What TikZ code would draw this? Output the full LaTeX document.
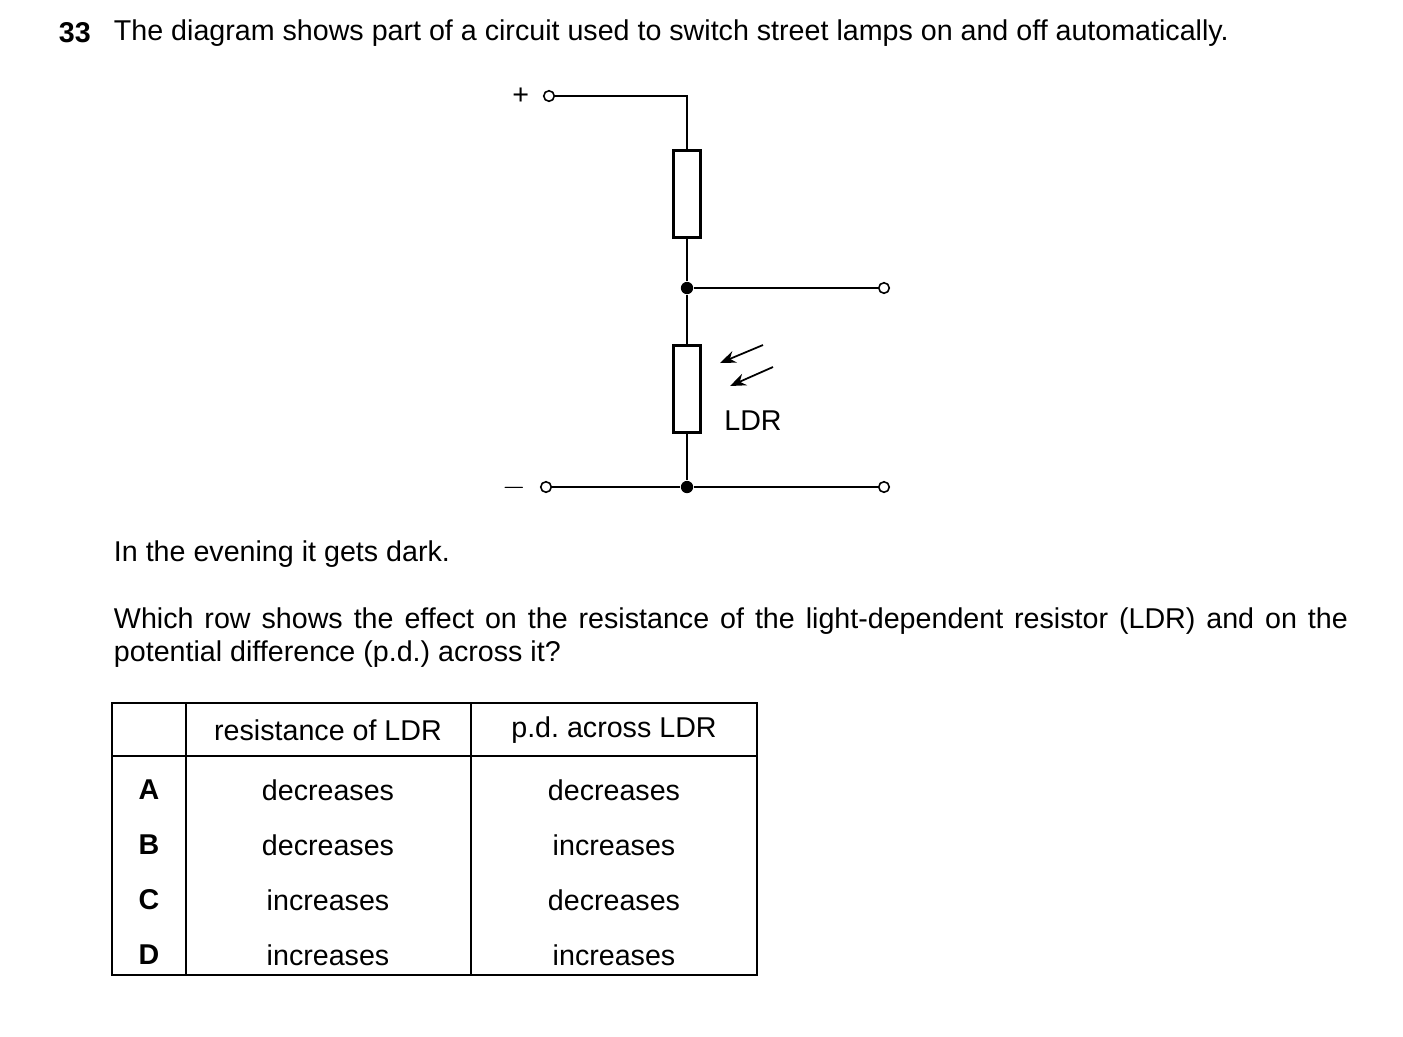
\documentclass[tikz,border=0pt]{standalone}
\usepackage{fontspec}
\setmainfont{Liberation Sans}
\usetikzlibrary{arrows.meta}
\frenchspacing
\begin{document}
\begin{tikzpicture}[x=0.02cm,y=-0.02cm,line width=1.1pt,
  txt/.style={font=\fontsize{16.3}{19}\selectfont,inner sep=0pt},
  term/.style={draw,circle,fill=white,inner sep=0pt,minimum size=6pt,line width=0.9pt},
  dot/.style={circle,fill,inner sep=0pt,minimum size=7pt},
  res/.style={draw,fill=white,line width=1.6pt,minimum width=27*0.02cm,minimum height=87*0.02cm,inner sep=0pt},
  ray/.style={-{Stealth[length=9pt,width=7pt]},line width=1pt}]
\useasboundingbox (0,0) rectangle (1403,1036);

% question text
\node[txt,font=\fontsize{16.3}{19}\selectfont\bfseries,anchor=west] (num) at (58,33) {33};
\node[txt,anchor=west] (q) at (113,33) {The diagram shows part of a circuit used to switch street lamps on and off automatically.};

% circuit
\node[term] (tp) at (549,96) {};
\node[txt,anchor=east] (plus) at (530,96) {+};
\coordinate (c1) at (687,96);
\node[res] (r1) at (687,194) {};
\node[dot] (j1) at (687,288) {};
\node[term] (out1) at (884,288) {};
\node[res] (r2) at (687,389) {};
\node[term] (tm) at (546,487) {};
\node[txt,anchor=east] (minus) at (527,488) {$-$};
\node[dot] (j2) at (687,487) {};
\node[term] (out2) at (884,487) {};
\node[txt] (ldr) at (753,421) {LDR};
\coordinate (a1s) at (763,345);
\coordinate (a1e) at (720,363);
\coordinate (a2s) at (773,367);
\coordinate (a2e) at (730,386);

\draw (tp) -- (c1) -- (r1.north);
\draw (r1.south) -- (j1) -- (r2.north);
\draw (r2.south) -- (j2);
\draw (j1) -- (out1);
\draw (tm) -- (j2) -- (out2);
\draw[ray] (a1s) -- (a1e);
\draw[ray] (a2s) -- (a2e);

% question
\node[txt,anchor=west] (p1) at (113,554) {In the evening it gets dark.};
\node[txt,anchor=north west,text width=1234*0.02cm,align=justify,
  font=\fontsize{16.3}{18.7}\selectfont] (p2) at (113,607)
  {Which row shows the effect on the resistance of the light-dependent resistor (LDR) and on the potential difference (p.d.) across it?};

% table
\draw[line width=0.9pt] (112,703) rectangle (757,975);
\draw[line width=0.9pt] (112,756) -- (757,756);
\draw[line width=0.9pt] (186,703) -- (186,975);
\draw[line width=0.9pt] (471,703) -- (471,975);
\node[txt] (h1) at (328,730) {resistance of LDR};
\node[txt] (h2) at (614,730) {p.d. across LDR};
\foreach \l/\r/\p [count=\i] in {A/decreases/decreases,B/decreases/increases,C/increases/decreases,D/increases/increases}{
  \node[txt,font=\fontsize{16.3}{19}\selectfont\bfseries] (l\i) at (149,735+55*\i) {\l};
  \node[txt] (res\i) at (328,735+55*\i) {\r};
  \node[txt] (pd\i) at (614,735+55*\i) {\p};
}
\end{tikzpicture}
\end{document}
